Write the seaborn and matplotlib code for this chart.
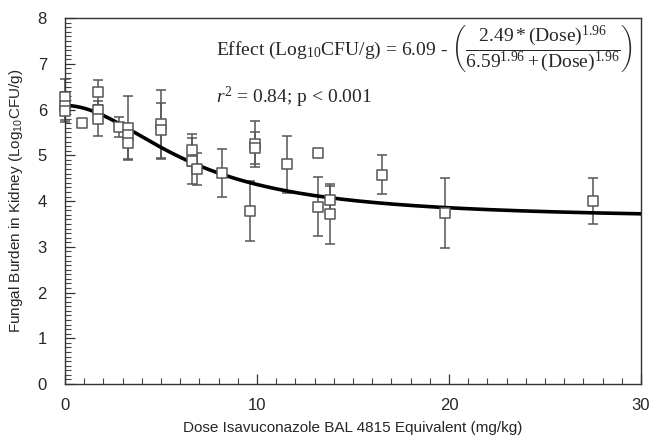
import numpy as np
import pandas as pd
import matplotlib
matplotlib.use("Agg")
import matplotlib.pyplot as plt
from matplotlib.ticker import MultipleLocator
import seaborn as sns

# individual animal groups: dose, mean burden, SD (NaN = no error bar)
dose = [0, 0, 0, 0.87, 1.7, 1.7, 1.7, 2.8, 3.3, 3.3, 3.3, 5.0, 5.0,
        6.6, 6.6, 6.9, 8.2, 9.65, 9.9, 9.9, 11.55, 13.2, 13.2, 13.8, 13.8,
        16.5, 19.8, 27.5]
burden = [6.28, 6.08, 5.98, 5.70, 6.38, 6.00, 5.80, 5.62, 5.60, 5.45, 5.28,
          5.68, 5.55, 5.12, 4.88, 4.70, 4.62, 3.78, 5.25, 5.15, 4.80, 5.06,
          3.88, 4.02, 3.72, 4.58, 3.74, 4.00]
sd = [0.40, 0.30, 0.25, np.nan, 0.27, 0.10, 0.38, 0.22, 0.70, 0.15, 0.35,
      0.75, 0.60, 0.35, 0.50, 0.35, 0.52, 0.65, 0.50, 0.35, 0.62, np.nan,
      0.64, 0.32, 0.65, 0.42, 0.77, 0.50]

# fitted Emax model parameters shown on the chart
E0, EMAX, EC50, HILL = 6.09, 2.49, 6.59, 1.96

df = pd.DataFrame({"dose": dose, "burden": burden, "sd": sd})

sns.set_theme(style="ticks")
plt.rcParams.update({
    "font.family": ["Liberation Sans", "DejaVu Sans"],
    "mathtext.fontset": "custom",
    "mathtext.rm": "Liberation Serif",
    "mathtext.it": "Liberation Serif:italic",
    "mathtext.sf": "Liberation Sans",
    "xtick.direction": "in",
    "ytick.direction": "in",
})

fig = plt.figure(figsize=(6.52, 4.43), dpi=100)
ax = fig.add_axes([0.0997, 0.1332, 0.8833, 0.8258])

grid = pd.DataFrame({"dose": np.linspace(0, 30, 300)})
grid["effect"] = E0 - EMAX * grid["dose"] ** HILL / (EC50 ** HILL + grid["dose"] ** HILL)

eb = df.dropna(subset=["sd"])
ax.errorbar(eb["dose"], eb["burden"], yerr=eb["sd"], fmt="none",
            ecolor="#555555", elinewidth=1.1, capsize=3.6, capthick=1.1,
            zorder=2, clip_on=False)

sns.lineplot(data=grid, x="dose", y="effect", color="black", linewidth=2.6,
             ax=ax, zorder=3)

sns.scatterplot(data=df, x="dose", y="burden", marker="s", s=62,
                facecolor="white", edgecolor="#555555", linewidth=1.1,
                ax=ax, zorder=4, clip_on=False)

ax.set_xlim(0, 30)
ax.set_ylim(0, 8)
ax.xaxis.set_major_locator(MultipleLocator(10))
ax.xaxis.set_minor_locator(MultipleLocator(1))
ax.yaxis.set_major_locator(MultipleLocator(1))
ax.yaxis.set_minor_locator(MultipleLocator(0.1))
ax.tick_params(axis="both", which="major", length=7, width=0.9,
               labelsize=12, color="#333333")
ax.tick_params(axis="x", which="major", pad=10)
ax.tick_params(axis="y", which="major", pad=13)
ax.tick_params(axis="both", which="minor", length=4, width=0.8, color="#444444")
for side in ["left", "right", "top", "bottom"]:
    ax.spines[side].set_visible(True)
    ax.spines[side].set_linewidth(1.0)
    ax.spines[side].set_color("#333333")

ax.set_xlabel("Dose Isavuconazole BAL 4815 Equivalent (mg/kg)", fontsize=11,
              labelpad=6)
ax.set_ylabel(r"Fungal Burden in Kidney (Log$_{\mathsf{10}}$CFU/g)", fontsize=11,
              labelpad=9)

serif = {"family": ["Liberation Serif", "DejaVu Serif"], "fontsize": 14}
ax.text(0.262, 0.915,
        r"Effect (Log$_{10}$CFU/g) = 6.09 - "
        r"$\left(\dfrac{2.49*(\mathrm{Dose})^{1.96}}"
        r"{6.59^{1.96}+(\mathrm{Dose})^{1.96}}\right)$",
        transform=ax.transAxes, va="center", ha="left", **serif)
ax.text(0.262, 0.784, r"$\mathit{r}^{2}$ = 0.84; p < 0.001",
        transform=ax.transAxes, va="center", ha="left", **serif)

fig.savefig("out.png", dpi=100)
